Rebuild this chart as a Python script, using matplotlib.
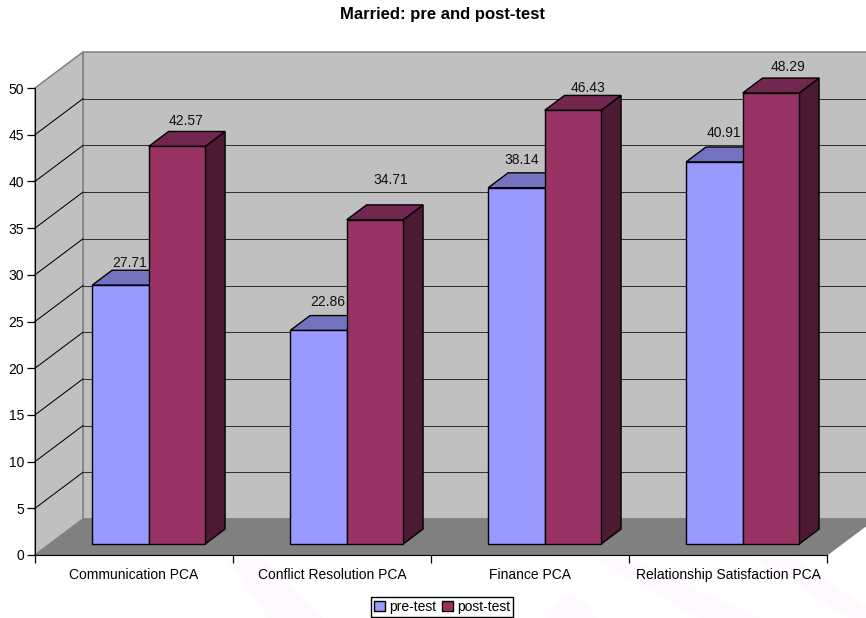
import matplotlib
matplotlib.use("Agg")
import matplotlib.pyplot as plt
from matplotlib.patches import Patch, Polygon

plt.rcParams["font.family"] = ["Liberation Sans", "DejaVu Sans"]

categories = ["Communication PCA", "Conflict Resolution PCA", "Finance PCA", "Relationship Satisfaction PCA"]
pre_test = [27.71, 22.86, 38.14, 40.91]
post_test = [42.57, 34.71, 46.43, 48.29]

# nudges of the value labels, in pixels (dx from bar centre, dy above back edge)
pre_nudge = [(9, 9), (9, 15), (5, 14), (9, 15)]
post_nudge = [(9, 12), (16, 26), (15, 9), (17, 13)]

W, H = 866, 618
# fake 3d: depth 1 moves a point this far in data units
DX = 48 / 198
DY = 36 / 9.34


def proj(x, v, d):
    return (x + d * DX, v + d * DY)


def box(ax, pts, color, z, edge=None, lw=1.0):
    ax.add_patch(Polygon(pts, closed=True, facecolor=color, edgecolor=edge if edge else color,
                         linewidth=lw, zorder=z, clip_on=False, joinstyle="miter"))


fig = plt.figure(figsize=(W / 100, H / 100), dpi=100)

# faint watermark behind the chart
watermark = [
    [(226, 557), (262, 557), (322, 618), (268, 618)],
    [(593, 557), (623, 557), (760, 618), (700, 618)],
    [(753, 557), (790, 557), (866, 606), (866, 618), (850, 618)],
    [(548, 618), (560, 600), (572, 595), (584, 602), (596, 618)],
]
for pts in watermark:
    fig.add_artist(Polygon([(x / W, 1 - y / H) for x, y in pts], closed=True, transform=fig.transFigure,
                           facecolor="#fef9fe", edgecolor="none", zorder=-5))

ax = fig.add_axes([35 / W, 1 - 555 / H, 792 / W, 467 / H])
ax.patch.set_visible(False)
ax.set_xlim(0, 4)
ax.set_ylim(0, 50)

# walls and floor
box(ax, [proj(0, 0, 1), proj(4, 0, 1), proj(4, 50, 1), proj(0, 50, 1)], "#c0c0c0", 1, "#808080", 1.1)
box(ax, [proj(0, 0, 0), proj(0, 0, 1), proj(0, 50, 1), proj(0, 50, 0)], "#c0c0c0", 1, "#808080", 1.1)
box(ax, [proj(0, 0, 0), proj(4, 0, 0), proj(4, 0, 1), proj(0, 0, 1)], "#808080", 1.5, "#808080", 0.8)

# gridlines
for v in range(5, 50, 5):
    a = proj(0, v, 0)
    b = proj(0, v, 1)
    c = proj(4, v, 1)
    ax.plot([a[0], b[0]], [a[1], b[1]], color="black", lw=0.75, zorder=2, clip_on=False)
    ax.plot([b[0], c[0]], [b[1], c[1]], color="#333333", lw=0.75, zorder=2, clip_on=False)

# bars
bar_w = 56.5 / 198
gap = 42.5 / 198
d0, d1 = 0.306, 0.72
for i in range(len(categories)):
    for j, (vals, front, top, side, nudge) in enumerate([
        (pre_test, "#9999ff", "#7373bf", "#4d4d80", pre_nudge),
        (post_test, "#993366", "#732650", "#4d1a33", post_nudge),
    ]):
        x0 = i + gap + j * bar_w
        x1 = x0 + bar_w
        v = vals[i]
        z = 3 + j
        box(ax, [proj(x1, 0, d0), proj(x1, 0, d1), proj(x1, v, d1), proj(x1, v, d0)], side, z, "black", 1.0)
        box(ax, [proj(x0, v, d0), proj(x1, v, d0), proj(x1, v, d1), proj(x0, v, d1)], top, z, "black", 1.0)
        box(ax, [proj(x0, 0, d0), proj(x1, 0, d0), proj(x1, v, d0), proj(x0, v, d0)], front, z + 0.1, "black", 1.0)
        ax.annotate(f"{v:.2f}", xy=proj((x0 + x1) / 2, v, d1), xycoords="data",
                    xytext=((nudge[i][0] - (d1 - d0) * 48) * 0.72, nudge[i][1] * 0.72),
                    textcoords="offset points", ha="center", va="center_baseline",
                    fontsize=10, color="#111111", zorder=6, annotation_clip=False)

# axes
ax.spines["top"].set_visible(False)
ax.spines["right"].set_visible(False)
ax.spines["left"].set_zorder(2.5)
ax.spines["bottom"].set_zorder(2.5)
ax.set_yticks(range(0, 51, 5))
ax.set_xticks(range(0, 5))
ax.set_xticklabels([])
ax.set_xticks([i + 0.5 for i in range(4)], minor=True)
ax.set_xticklabels(categories, minor=True)
ax.tick_params(axis="x", which="major", length=6, width=0.9)
ax.tick_params(axis="y", length=6, width=0.9, pad=2, labelsize=10)
for lab in ax.get_xticklabels(minor=True):
    lab.set_verticalalignment("baseline")
ax.tick_params(axis="x", which="minor", length=0, pad=17, labelsize=10)

fig.text(442 / W, 1 - 14 / H, "Married: pre and post-test", ha="center", va="center",
         fontsize=12, fontweight="bold")

handles = [Patch(facecolor="#9999ff", edgecolor="black", label="pre-test"),
           Patch(facecolor="#993366", edgecolor="black", label="post-test")]
fig.legend(handles=handles, loc="center", bbox_to_anchor=(442 / W, 1 - 607 / H), ncol=2,
           fontsize=10, fancybox=False, framealpha=1, edgecolor="black",
           handlelength=0.75, handleheight=0.75, handletextpad=0.3, columnspacing=0.45,
           borderpad=0.2, borderaxespad=0)

fig.savefig("out.png", dpi=100)
